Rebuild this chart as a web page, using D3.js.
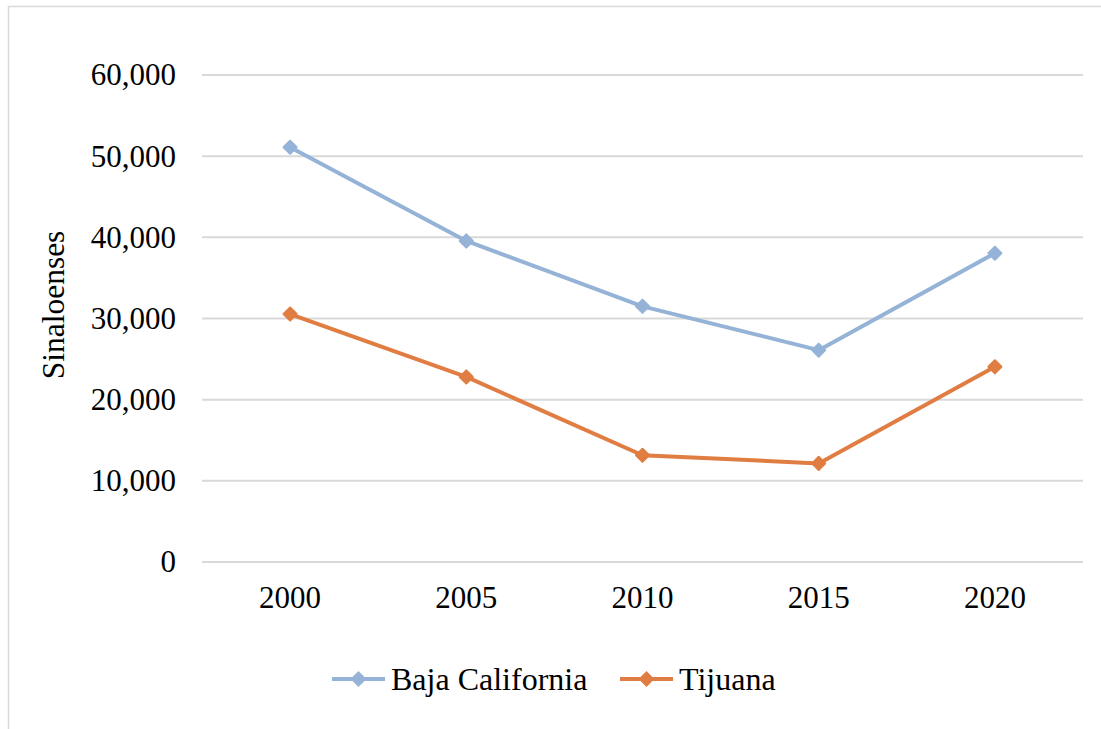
<!doctype html>
<html>
<head>
<title>Sinaloenses</title>
<style type="text/css">
body { margin: 0; background: #fff; }
svg { display: block; font-family: "Liberation Serif", "Times New Roman", serif; }
</style>
<script src="https://cdnjs.cloudflare.com/ajax/libs/d3/7.8.5/d3.min.js"></script>
</head>
<body>
<script type="text/javascript">
var width = 1101, height = 729;

// data
var years = ["2000", "2005", "2010", "2015", "2020"];
var bajaCalifornia = [51100, 39550, 31500, 26100, 38050];
var tijuana = [30550, 22800, 13150, 12150, 24050];
var seriesNames = ["Baja California", "Tijuana"];
var seriesColors = ["#95b3d7", "#e07d42"];
var yTicks = [0, 10000, 20000, 30000, 40000, 50000, 60000];

var margin = {left: 202, right: 1083, top: 75, bottom: 562};

var svg = d3.select("body").append("svg")
	.attr("width", width)
	.attr("height", height);

// chart frame
svg.append("path")
	.attr("d", "M8.5," + height + "V6.5H" + width)
	.attr("fill", "none")
	.attr("stroke", "#d9d9d9")
	.attr("stroke-width", 1.5);

var x = d3.scaleBand().domain(years).range([margin.left, margin.right]);
var y = d3.scaleLinear().domain([0, 60000]).range([margin.bottom, margin.top]);
var fmt = d3.format(",");

// gridlines
svg.append("g").selectAll("line")
	.data(yTicks)
	.enter().append("line")
	.attr("x1", margin.left)
	.attr("x2", margin.right)
	.attr("y1", function(d) { return y(d); })
	.attr("y2", function(d) { return y(d); })
	.attr("stroke", "#d9d9d9")
	.attr("stroke-width", 2);

// y axis labels
var yAxis = svg.append("g")
	.attr("transform", "translate(" + (margin.left - 26) + ",0)")
	.call(d3.axisLeft(y).tickValues(yTicks).tickFormat(fmt).tickSize(0).tickPadding(0));
yAxis.select(".domain").remove();
yAxis.selectAll("text")
	.attr("font-family", "Liberation Serif")
	.attr("font-size", 31)
	.attr("fill", "#000");

// x axis labels
var xAxis = svg.append("g")
	.attr("transform", "translate(0," + margin.bottom + ")")
	.call(d3.axisBottom(x).tickSize(0).tickPadding(24));
xAxis.select(".domain").remove();
xAxis.selectAll("text")
	.attr("font-family", "Liberation Serif")
	.attr("font-size", 31)
	.attr("fill", "#000");

// axis title
svg.append("text")
	.attr("transform", "translate(64,305) rotate(-90)")
	.attr("text-anchor", "middle")
	.attr("font-size", 31.5)
	.text("Sinaloenses");

var series = [bajaCalifornia, tijuana];
var line = d3.line()
	.x(function(d, i) { return x(years[i]) + x.bandwidth() / 2; })
	.y(function(d) { return y(d); });
var diamond = d3.symbol().type(d3.symbolDiamond2).size(110);

series.forEach(function(vals, s) {
	svg.append("path")
		.datum(vals)
		.attr("d", line)
		.attr("fill", "none")
		.attr("stroke", seriesColors[s])
		.attr("stroke-width", 4)
		.attr("stroke-linejoin", "round");
	svg.append("g").selectAll("path")
		.data(vals)
		.enter().append("path")
		.attr("d", diamond)
		.attr("transform", function(d, i) {
			return "translate(" + (x(years[i]) + x.bandwidth() / 2) + "," + y(d) + ")";
		})
		.attr("fill", seriesColors[s])
		.attr("stroke", seriesColors[s])
		.attr("stroke-width", 2)
		.attr("stroke-linejoin", "round");
});

// legend
var legendX = [332, 620];
var legend = svg.append("g").selectAll("g")
	.data(seriesNames)
	.enter().append("g")
	.attr("transform", function(d, i) { return "translate(" + legendX[i] + ",679)"; });
legend.append("line")
	.attr("x1", 0).attr("x2", 53)
	.attr("stroke", function(d, i) { return seriesColors[i]; })
	.attr("stroke-width", 4);
legend.append("path")
	.attr("d", diamond)
	.attr("transform", "translate(26.5,0)")
	.attr("fill", function(d, i) { return seriesColors[i]; })
	.attr("stroke", function(d, i) { return seriesColors[i]; })
	.attr("stroke-width", 2);
legend.append("text")
	.attr("x", 59)
	.attr("dy", "0.34em")
	.attr("font-size", 32)
	.text(function(d) { return d; });
</script>
</body>
</html>
